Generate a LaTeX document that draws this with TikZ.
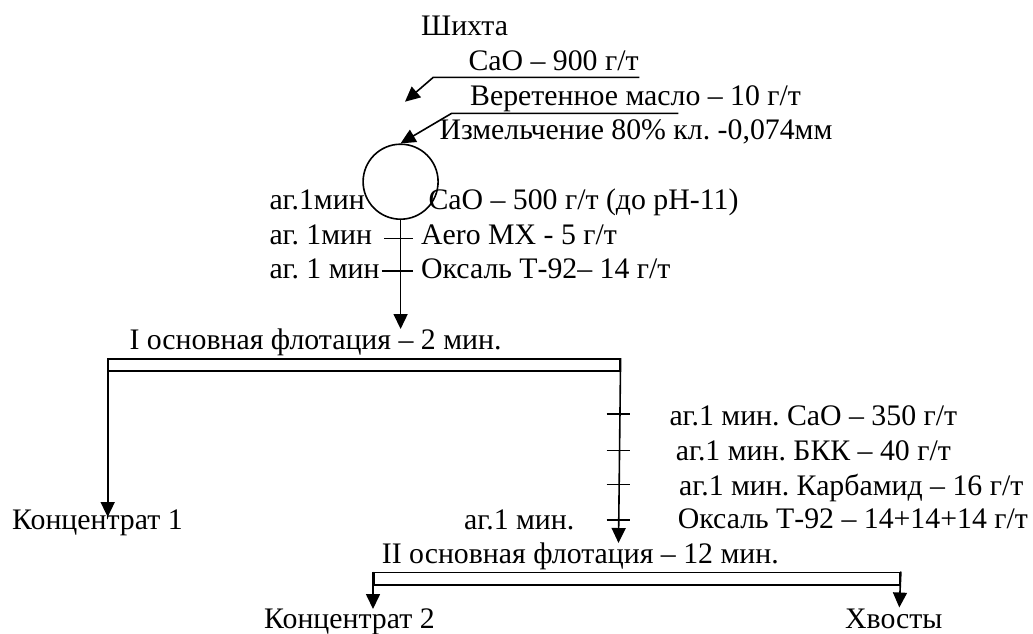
\documentclass[tikz,border=0pt]{standalone}
\usepackage{fontspec}
\setmainfont{Liberation Serif}
\usetikzlibrary{arrows.meta}
\frenchspacing
\begin{document}
\begin{tikzpicture}[x=1pt,y=-1pt,
  lbl/.style={anchor=base west, inner sep=0pt, font=\fontsize{29.8}{35}\selectfont},
  flow/.style={line width=1.6pt},
  arr/.style={flow, -{Triangle[length=15pt,width=14pt]}},
  barbox/.style={draw, line width=1.6pt, rectangle, inner sep=0pt, anchor=north west},
  tickmark/.style={line width=1.6pt}]
\useasboundingbox (0,0) rectangle (1033,633);

% texts
\node[lbl] (shikhta) at (421,35) {Шихта};
\node[lbl] (cao900) at (468.3,70.7) {CaO – 900 г/т};
\node[lbl] (veret) at (470,105) {Веретенное масло – 10 г/т};
\node[lbl] (izm) at (439.3,139.3) {Измельчение 80\% кл. -0,074мм};
\node[lbl] (ag1) at (269.3,209) {аг.1мин};
\node[lbl] (cao500) at (428.3,209) {CaO – 500 г/т (до pH-11)};
\node[lbl] (ag2) at (269.3,244.3) {аг. 1мин};
\node[lbl] (aero) at (421,244.3) {Aero MX - 5 г/т};
\node[lbl] (ag3) at (269.3,278.3) {аг. 1 мин};
\node[lbl] (oks1) at (421,278.3) {Оксаль Т-92– 14 г/т};
\node[lbl] (fl1) at (129.3,349) {I основная флотация – 2 мин.};
\node[lbl] (r1) at (669.3,425) {аг.1 мин. CaO – 350 г/т};
\node[lbl] (r2) at (675.7,460) {аг.1 мин. БКК – 40 г/т};
\node[lbl] (r3) at (679,495) {аг.1 мин. Карбамид – 16 г/т};
\node[lbl] (r4) at (677.7,528) {Оксаль Т-92 – 14+14+14 г/т};
\node[lbl] (agl) at (464,529) {аг.1 мин.};
\node[lbl] (conc1) at (12,529) {Концентрат 1};
\node[lbl] (fl2) at (381.7,563.3) {II основная флотация – 12 мин.};
\node[lbl] (conc2) at (264,628) {Концентрат 2};
\node[lbl] (tails) at (845,628) {Хвосты};

% mill circle
\node[draw, circle, line width=1.6pt, minimum size=75pt, inner sep=0pt] (mill) at (400.6,181.7) {};

% flotation bars
\node[barbox, minimum width=511.3pt, minimum height=12pt] (bar1) at (107.7,358) {};
\node[barbox, minimum width=526.3pt, minimum height=12.5pt] (bar2) at (373,571.5) {};

% coordinates
\coordinate (u1s) at (433.3,77.3);
\coordinate (u1e) at (639.3,77.3);
\coordinate (t1) at (405,101.7);
\coordinate (u2s) at (451.7,113.3);
\coordinate (u2e) at (678.3,113.3);
\coordinate (f1in) at (400.6,329);
\coordinate (c1tip) at (107.7,517);
\coordinate (f2in) at (618.5,543);
\coordinate (c2tip) at (373,609);
\coordinate (tltip) at (899.3,607.5);

% connectors
\draw[arr] (u1e) -- (u1s) -- (t1);
\draw[arr] (u2e) -- (u2s) -- (mill.north);
\draw[arr] (mill.south) -- (f1in);
\draw[arr] (bar1.north west) -- (c1tip);
\draw[arr] (bar1.north east) -- (f2in);
\draw[arr] (bar2.north west) -- (c2tip);
\draw[arr] (bar2.north east) -- (tltip);

% reagent ticks
\draw[tickmark] (384.3,238.3) -- (412.7,238.3);
\draw[tickmark] (381.7,271) -- (412.7,271);
\foreach \yy in {414,450.5,484.5,520}
  \draw[tickmark] (606.7,\yy) -- (630,\yy);
\end{tikzpicture}
\end{document}
